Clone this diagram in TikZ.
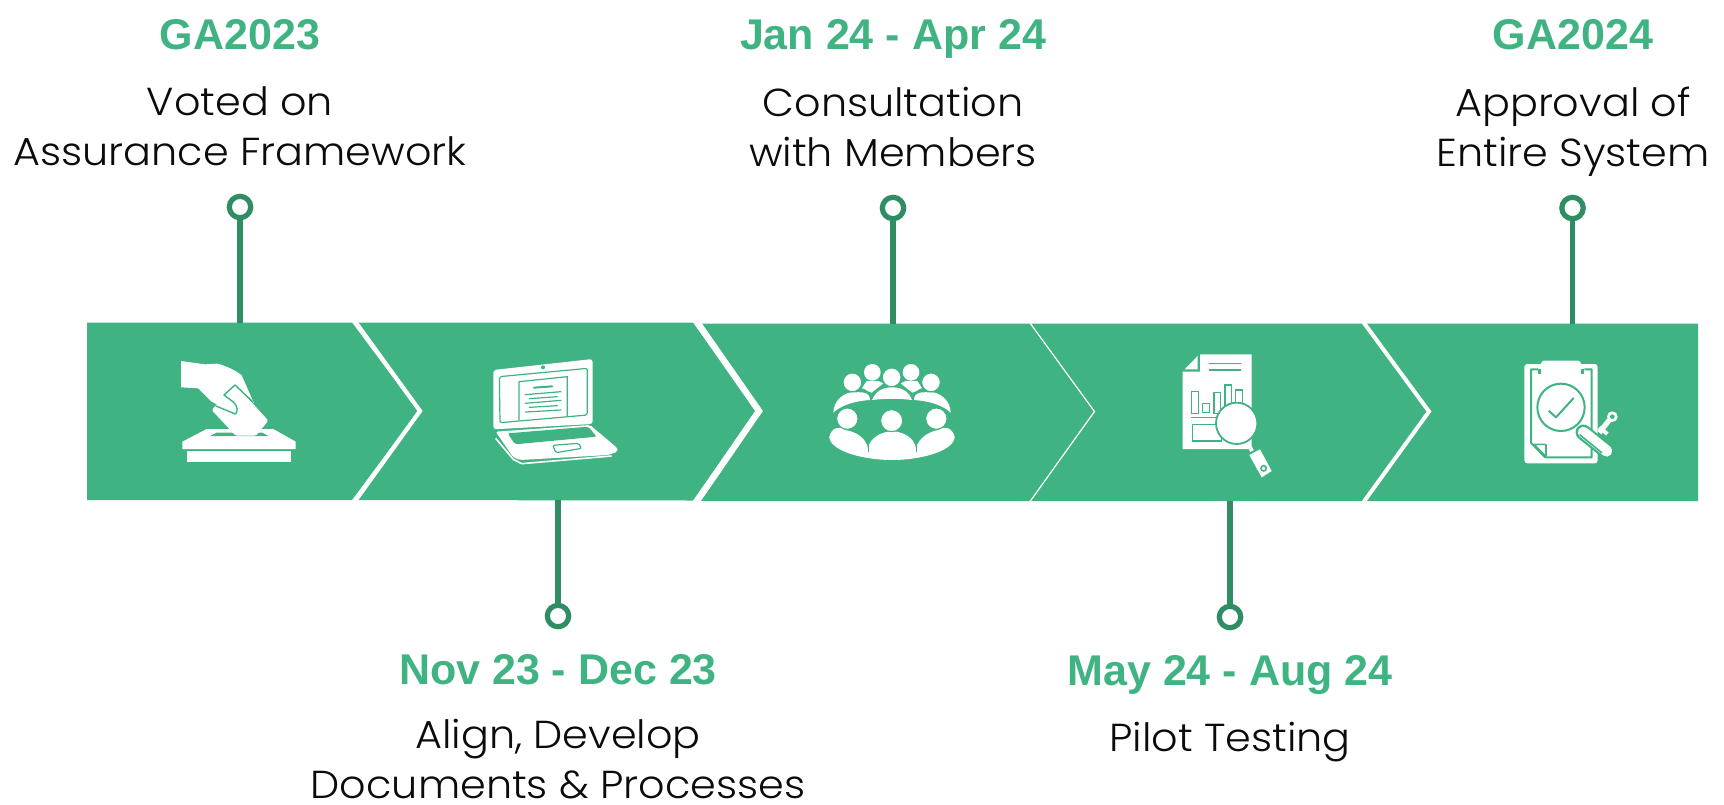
\documentclass[tikz,border=0pt]{standalone}
\usepackage{fontspec}
\setmainfont{Liberation Sans}
\newfontfamily\headf{Liberation Sans}
\newfontfamily\bodyf[FakeStretch=1.06]{Poppins Light}
\definecolor{bandc}{HTML}{40B383}
\definecolor{stemc}{HTML}{2F8D63}
\definecolor{inkc}{HTML}{0B0B0B}
\tikzset{
  head/.style={anchor=base,inner sep=0pt,text=bandc,font=\headf\bfseries\fontsize{21.5}{25}\selectfont},
  body/.style={anchor=base,inner sep=0pt,text=inkc,align=center,font=\bodyf\fontsize{19.5}{25}\selectfont},
  pin/.style={circle,draw=stemc,fill=white,line width=2.6pt,minimum size=10.7pt,inner sep=0pt},
  stem/.style={draw=stemc,line width=2.8pt},
  cut/.style={draw=white,line join=miter,miter limit=10},
  ico/.style={fill=white,draw=none},
  gl/.style={draw=bandc,line width=#1,line cap=round,line join=round},
  gl/.default=0.6pt
}
\begin{document}
\begin{tikzpicture}[x=0.5pt,y=-0.5pt]
\useasboundingbox (0,0) rectangle (1724,804);
% band
\fill[bandc] (87,322.5)--(352,322.5)--(418,411)--(352,500)--(87,500)--cycle;
\fill[bandc] (357,322.5)--(693,322.5)--(756,411)--(693,500.5)--(357,500)--(422,411)--cycle;
\fill[bandc] (697,323.5)--(1030,323.5)--(1094,411.5)--(1030,501)--(697,501)--(761,411.5)--cycle;
\fill[bandc] (1030,323.5)--(1362,323.5)--(1428,411.5)--(1362,501)--(1030,501)--(1095,411.5)--cycle;
\fill[bandc] (1366,323.5)--(1698,323.5)--(1698,501)--(1366,501)--(1431,411.5)--cycle;
\draw[cut,line width=2.1pt] (355.5,322)--(420,411)--(355.5,500.5);
\draw[cut,line width=3.2pt] (697,322)--(759,411)--(697,501);
\draw[cut,line width=0.6pt] (1030,323)--(1094.5,411.5)--(1030,501.5);
\draw[cut,line width=2pt] (1364,323)--(1429,411.5)--(1364,501.5);
% anchors on the band
\coordinate (b1) at (240,323);
\coordinate (b2) at (558,500);
\coordinate (b3) at (893,324);
\coordinate (b4) at (1230,501);
\coordinate (b5) at (1572.5,324);
% pins
\node[pin] (p1) at (240,207) {};
\node[pin] (p2) at (558,616) {};
\node[pin] (p3) at (893,208) {};
\node[pin] (p4) at (1230,617) {};
\node[pin] (p5) at (1572.5,208) {};
\draw[stem] (p1)--(b1);
\draw[stem] (p2)--(b2);
\draw[stem] (p3)--(b3);
\draw[stem] (p4)--(b4);
\draw[stem] (p5)--(b5);
% labels
\node[head] (h1) at (240,49) {GA2023};
\node[head] (h2) at (558,684) {Nov 23 - Dec 23};
\node[head] (h3) at (893,49.5) {Jan 24 - Apr 24};
\node[head] (h4) at (1230,685.5) {May 24 - Aug 24};
\node[head] (h5) at (1573,49.5) {GA2024};
\node[body] (t1) at (240,165) {Voted on\\Assurance Framework};
\node[body] (t2) at (558,798.5) {Align, Develop\\Documents \& Processes};
\node[body] (t3) at (893,166) {Consultation\\with Members};
\node[body] (t4) at (1230,751) {Pilot Testing};
\node[body] (t5) at (1573,166) {Approval of\\Entire System};
% ballot icon
\begin{scope}[shift={(130,300)},scale=1/3]
\fill[ico] (157,425)--(230,387)--(430,387)--(497,425)--(497,447)--(157,447)--cycle;
\fill[bandc] (240,408)--(260,398)--(397,398)--(415,408)--cycle;
\fill[ico] (172,453) rectangle (482,485);
\fill[ico,rounded corners=0.7pt] (245,330)--(315,252)--(415,362)--(378,407)--(317,407)--cycle;
\fill[ico] (153,183)--(225,193)--(262,191) .. controls (290,198) and (320,213) .. (335,226)--(372,310)--(315,255)--(280,285)--(310,306) .. controls (323,318) and (325,335) .. (318,343)--(245,305)--(205,265)--(153,262)--cycle;
\draw[gl=0.7pt] (368,305)--(315,255)--(282,285)--(310,306) .. controls (323,318) and (325,335) .. (316,342)--(258,318);
\end{scope}
% laptop icon
\begin{scope}[shift={(480,350)},scale=1/3]
\fill[ico,rounded corners=1.5pt] (40,60)--(338,27)--(338,222)--(40,238)--cycle;
\fill[bandc] (189,52) circle (6);
\draw[gl=0.6pt,rounded corners=1pt] (58,80)--(322,55)--(322,195)--(60,218)--cycle;
\draw[gl=0.6pt] (117,210)--(117,95)--(262,80)--(262,197);
\draw[gl=1pt] (162,113)--(217,109);
\draw[gl=0.6pt] (136,134)--(243,125) (148,146)--(232,140) (136,160)--(243,151) (148,172)--(232,167) (136,186)--(243,180);
\fill[ico,rounded corners=1pt] (47,245)--(330,225)--(413,295)--(413,305)--(385,315)--(120,330)--(100,322)--cycle;
\fill[bandc,rounded corners=1pt] (83,250)--(325,230)--(350,260)--(105,283)--cycle;
\draw[gl=0.6pt,rounded corners=0.7pt] (218,286)--(295,280)--(305,295)--(228,308)--cycle;
\draw[white,line width=0.8pt] (47,265)--(100,328)--(125,341)--(395,318);
\end{scope}
% meeting icon
\begin{scope}[shift={(720,300)},scale=1/3]
\fill[ico] (425,266)--(440,243)--(475,243)--(490,250)--(455,278)--cycle;
\fill[ico] (607,266)--(592,243)--(557,243)--(542,250)--(577,278)--cycle;
\fill[ico] (457,217) circle (25);
\fill[ico] (573,217) circle (25);
\fill[ico] (340,338) .. controls (340,300) and (375,277) .. (397,277) .. controls (420,277) and (448,272) .. (451,300) .. controls (400,303) and (360,318) .. (340,338)--cycle;
\fill[ico] (692,338) .. controls (692,300) and (657,277) .. (635,277) .. controls (612,277) and (584,272) .. (581,300) .. controls (632,303) and (672,318) .. (692,338)--cycle;
\fill[ico] (456,300) .. controls (470,270) and (490,262) .. (515,262) .. controls (540,262) and (565,270) .. (576,300) .. controls (536,295) and (496,295) .. (456,300)--cycle;
\draw[gl=0.5pt] (425,266) .. controls (440,270) and (450,280) .. (453,300) (607,266) .. controls (592,270) and (582,280) .. (579,300);
\filldraw[fill=white,draw=bandc,line width=0.5pt] (515,232) circle (28);
\filldraw[fill=white,draw=bandc,line width=0.5pt] (397,247) circle (28);
\filldraw[fill=white,draw=bandc,line width=0.5pt] (633,247) circle (28);
\fill[ico] (328,410) .. controls (335,385) and (355,375) .. (375,390) .. controls (410,395) and (438,415) .. (444,445) .. controls (450,410) and (490,394) .. (516,394) .. controls (545,394) and (582,410) .. (588,445) .. controls (595,415) and (625,395) .. (655,390) .. controls (675,375) and (697,385) .. (704,410) .. controls (704,450) and (610,480) .. (516,480) .. controls (422,480) and (328,450) .. (328,410)--cycle;
\draw[draw=bandc,line width=0.5pt] (444,425)--(444,456) (588,425)--(588,456);
\filldraw[fill=white,draw=bandc,line width=0.5pt] (382,356) circle (32);
\filldraw[fill=white,draw=bandc,line width=0.5pt] (515,362) circle (33);
\filldraw[fill=white,draw=bandc,line width=0.5pt] (649,356) circle (32);
\end{scope}
% report icon
\begin{scope}[shift={(1170,345)},scale=1/3]
\fill[ico] (90,28)--(245,28)--(245,312)--(38,312)--(38,80)--(90,80)--cycle;
\fill[ico] (44,73)--(83,33)--(83,73)--cycle;
\draw[gl=0.8pt] (118,55)--(212,55) (118,75)--(212,75);
\draw[draw=bandc,line width=0.8pt] (65,140) rectangle (85,205) (98,175) rectangle (118,203) (132,142) rectangle (152,205) (165,120) rectangle (185,190) (197,135) rectangle (217,175);
\draw[draw=bandc,line width=0.8pt] (62,218)--(150,218) (67,238) rectangle (155,288);
\draw[white,line width=2pt] (232,292)--(246,318);
\fill[ico] (238,330)--(270,313)--(305,378)--(275,397)--cycle;
\filldraw[fill=white,draw=bandc,line width=0.8pt] (281,370) circle (8);
\filldraw[fill=white,draw=bandc,line width=0.9pt] (200,235) circle (62);
\end{scope}
% clipboard icon
\begin{scope}[shift={(1330,300)},scale=1/3]
\fill[ico,rounded corners=1.5pt] (583,192) rectangle (803,490);
\draw[draw=bandc,line width=1pt,line join=round] (625,208)--(603,208)--(603,428)--(645,472)--(785,472)--(785,208)--(763,208);
\filldraw[fill=white,draw=bandc,line width=0.8pt,rounded corners=0.5pt] (612,433)--(648,433)--(648,470)--cycle;
\fill[bandc] (625,208) rectangle (633,222);
\fill[bandc] (753,208) rectangle (763,222);
\fill[ico,rounded corners=1.5pt] (633,182) rectangle (753,220);
\draw[draw=bandc,line width=1pt] (693,322) circle (71);
\draw[gl=1pt] (657,333)--(678,352)--(730,295);
% stamp
\draw[white,line width=2.6pt] (808,398)--(838,360);
\draw[white,line width=2pt] (808,382)--(832,402);
\fill[ico] (847,350) circle (16);
\fill[bandc] (847,350) circle (7);
\draw[bandc,line width=7.8pt,line cap=round] (760,397)--(830,453);
\draw[white,line width=5.6pt,line cap=round] (760,397)--(830,453);
\draw[gl=0.8pt] (750,405)--(815,458);
\end{scope}
\end{tikzpicture}
\end{document}
